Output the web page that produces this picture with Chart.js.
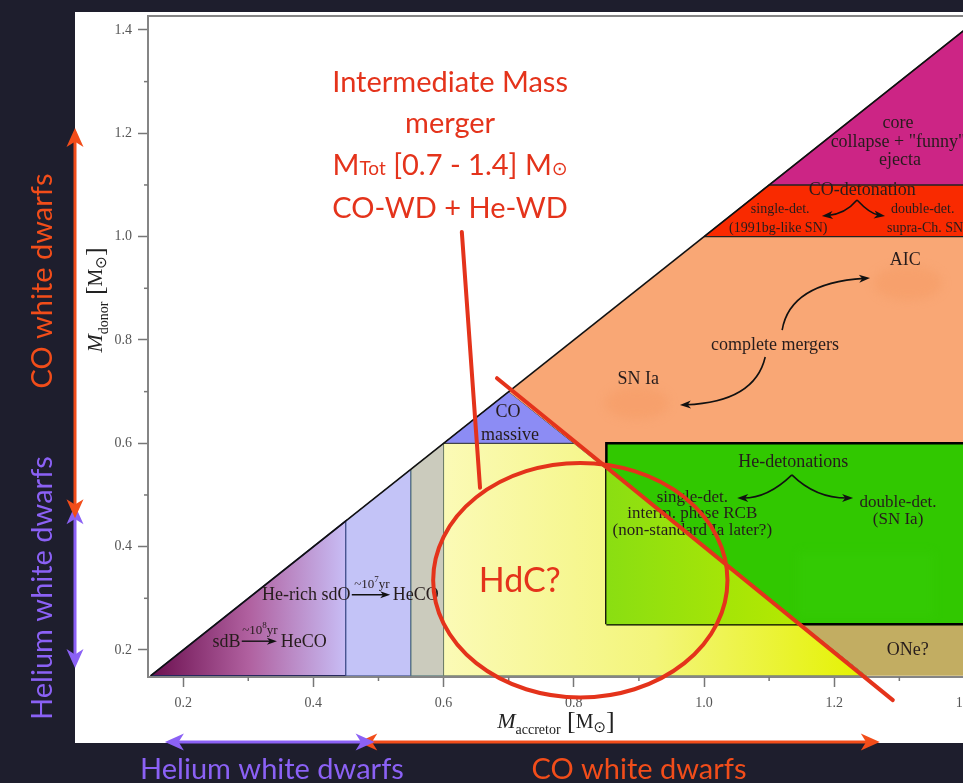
<!DOCTYPE html>
<html>
<head>
<meta charset="utf-8">
<title>Double white dwarf merger outcomes</title>
<script src="https://cdn.jsdelivr.net/npm/chart.js@4.4.1/dist/chart.umd.min.js"></script>
<style>
  html, body { margin: 0; padding: 0; background: #1e1e2d; overflow: hidden; }
  #wrap { width: 963px; height: 783px; overflow: hidden; }
  canvas { display: block; }
</style>
</head>
<body>
<div id="wrap"><canvas id="mergers" width="1000" height="783"></canvas></div>
<script>
// axis ranges, solar masses
const accretorRange = [0.146, 1.45];
const donorRange = [0.1477, 1.427];
const tickStep = 0.1;

// merger outcome zones as polygons of (M_accretor, M_donor)
const sdBZone = [[0.15, 0.15], [0.45, 0.45], [0.45, 0.15]];
const sdOZone = [[0.45, 0.15], [0.45, 0.45], [0.55, 0.55], [0.55, 0.15]];
const hybridZone = [[0.55, 0.15], [0.55, 0.55], [0.6, 0.6], [0.6, 0.15]];
const coLowZone = [[0.6, 0.15], [0.6, 0.6], [0.8, 0.6], [1.25, 0.15]];
const coMassiveZone = [[0.6, 0.6], [0.7, 0.7], [0.8, 0.6]];
const mergerZone = [[0.7, 0.7], [1.0, 1.0], [1.45, 1.0], [1.45, 0.6], [0.85, 0.6], [0.85, 0.55], [0.8, 0.6]];
const coDetZone = [[1.0, 1.0], [1.1, 1.1], [1.45, 1.1], [1.45, 1.0]];
const collapseZone = [[1.1, 1.1], [1.45, 1.45], [1.45, 1.1]];
const heDetZone = [[0.85, 0.25], [0.85, 0.6], [1.45, 0.6], [1.45, 0.25]];
const heDetLowZone = [[0.85, 0.25], [0.85, 0.55], [1.15, 0.25]];
const oneZone = [[1.25, 0.15], [1.15, 0.25], [1.45, 0.25], [1.45, 0.15]];
const equalMass = [[0.15, 0.15], [1.45, 1.45]];

// hand drawn overlay
const totalMassLine = [[0.682, 0.726], [1.29, 0.103]];
const hdcCentre = [0.81, 0.335];
const hdcRadius = [0.226, 0.227];
const calloutLine = [[0.628, 1.009], [0.656, 0.514]];
const heWdDonor = [0.165, 0.48];
const coWdDonor = [0.455, 1.21];
const heWdAccretor = [0.172, 0.494];
const coWdAccretor = [0.469, 1.27];

const SERIF = '"Liberation Serif", "DejaVu Serif", serif';
const SANS = 'Lato, "Open Sans", sans-serif';
const RED = '#e4331b';
const ORANGE = '#f24d1a';
const PURPLE = '#8b61f5';
const INK = '#261c1c';

const pts = poly => poly.map(([x, y]) => ({x, y}));
const closed = poly => pts(poly.concat([poly[0]]));

function hGrad(a, b, stops) {
  return ctx => {
    const chart = ctx.chart;
    const xs = chart.scales.x;
    if (!xs || !chart.chartArea) return stops[0][1];
    const g = chart.ctx.createLinearGradient(xs.getPixelForValue(a), 0, xs.getPixelForValue(b), 0);
    stops.forEach(([o, c]) => g.addColorStop(o, c));
    return g;
  };
}

function zone(poly, fill, line, width, order) {
  return {
    data: closed(poly),
    showLine: true,
    fill: 'shape',
    backgroundColor: fill,
    borderColor: line || 'rgba(0,0,0,0)',
    borderWidth: width || 0,
    pointRadius: 0,
    order: order
  };
}

const datasets = [
  {data: pts(equalMass), showLine: true, borderColor: '#111', borderWidth: 1.6, pointRadius: 0, order: 0},
  zone(heDetLowZone, hGrad(0.85, 1.15, [[0, '#8ade12'], [1, '#b6e900']]), null, 0, 1),
  zone(heDetZone, '#31c800', '#000', 2.5, 2),
  zone(oneZone, '#c2ad62', null, 0, 3),
  zone(collapseZone, '#cc2585', '#222', 1.2, 4),
  zone(coDetZone, '#f92a00', '#222', 1.2, 5),
  zone(mergerZone, '#f9a775', null, 0, 6),
  zone(coMassiveZone, '#8c8cf4', '#333', 1, 7),
  zone(coLowZone, hGrad(0.6, 1.25, [[0, '#fbfab6'], [0.5, '#f3f57a'], [1, '#e4f200']]), '#6b7a66', 1, 8),
  zone(hybridZone, '#cbcbbd', '#5f7f7f', 1, 9),
  zone(sdOZone, '#c3c3f7', '#4a5a9a', 1, 10),
  zone(sdBZone, hGrad(0.15, 0.45, [[0, '#6b0f4f'], [0.5, '#b0609f'], [1, '#c8bdf5']]), '#27285e', 1.5, 11)
];

const isMajor = v => Math.round(v * 10) % 2 === 0;

function arrowHead(c, x, y, ang, len, wid, color) {
  c.save();
  c.translate(x, y);
  c.rotate(ang);
  c.fillStyle = color;
  c.beginPath();
  c.moveTo(0, 0);
  c.lineTo(-len, -wid / 2);
  c.lineTo(-len * 0.72, 0);
  c.lineTo(-len, wid / 2);
  c.closePath();
  c.fill();
  c.restore();
}

function curvedArrow(c, s, k, e) {
  const ang = Math.atan2(e[1] - k[1], e[0] - k[0]);
  c.save();
  c.strokeStyle = '#111';
  c.lineWidth = 1.6;
  c.beginPath();
  c.moveTo(s[0], s[1]);
  c.quadraticCurveTo(k[0], k[1], e[0] - 6 * Math.cos(ang), e[1] - 6 * Math.sin(ang));
  c.stroke();
  arrowHead(c, e[0], e[1], ang, 11, 8, '#111');
  c.restore();
}

function doubleArrow(c, x1, y1, x2, y2, color) {
  const ang = Math.atan2(y2 - y1, x2 - x1);
  c.save();
  c.strokeStyle = color;
  c.lineWidth = 3;
  c.beginPath();
  c.moveTo(x1 + 8 * Math.cos(ang), y1 + 8 * Math.sin(ang));
  c.lineTo(x2 - 8 * Math.cos(ang), y2 - 8 * Math.sin(ang));
  c.stroke();
  arrowHead(c, x2, y2, ang, 19, 17, color);
  arrowHead(c, x1, y1, ang + Math.PI, 19, 17, color);
  c.restore();
}

// draws text runs of mixed size side by side on one baseline
function runs(c, parts, x, y, align) {
  let w = 0;
  parts.forEach(p => { c.font = p.font; p.w = c.measureText(p.t).width; w += p.w; });
  let cx = align === 'left' ? x : align === 'right' ? x - w : x - w / 2;
  c.textAlign = 'left';
  parts.forEach(p => { c.font = p.font; c.fillText(p.t, cx, y + (p.dy || 0)); cx += p.w; });
}

const zoneLabels = [
  ['core', 1.298, 1.220, 18],
  ['collapse + "funny"', 1.298, 1.183, 18],
  ['ejecta', 1.301, 1.148, 18],
  ['CO-detonation', 1.243, 1.090, 18],
  ['single-det.', 1.117, 1.052, 14],
  ['(1991bg-like SN)', 1.114, 1.017, 14],
  ['double-det.', 1.336, 1.052, 14],
  ['supra-Ch. SN', 1.281, 1.017, 14, 'left'],
  ['AIC', 1.309, 0.955, 18],
  ['complete mergers', 1.109, 0.790, 18],
  ['SN Ia', 0.899, 0.723, 18],
  ['CO', 0.699, 0.661, 18],
  ['massive', 0.702, 0.616, 18],
  ['He-detonations', 1.137, 0.564, 18],
  ['single-det.', 0.982, 0.496, 17],
  ['interm. phase RCB', 0.982, 0.465, 17],
  ['(non-standard Ia later?)', 0.982, 0.432, 17],
  ['double-det.', 1.298, 0.486, 17],
  ['(SN Ia)', 1.298, 0.452, 17],
  ['ONe?', 1.313, 0.200, 18]
];

const slide = {
  id: 'slide',
  beforeDraw(chart) {
    const c = chart.ctx;
    c.save();
    c.fillStyle = '#1e1e2d';
    c.fillRect(0, 0, chart.width, chart.height);
    c.fillStyle = '#ffffff';
    c.fillRect(75, 12, chart.width - 75, 731);
    c.restore();
  },
  afterDatasetsDraw(chart) {
    const c = chart.ctx;
    const xs = chart.scales.x, ys = chart.scales.y;
    const X = v => xs.getPixelForValue(v);
    const Y = v => ys.getPixelForValue(v);
    const P = (x, y) => [X(x), Y(y)];
    const a = chart.chartArea;

    c.save();

    // soft patches behind some labels
    c.save();
    c.filter = 'blur(5px)';
    c.fillStyle = 'rgba(244,150,92,0.35)';
    c.beginPath(); c.ellipse(X(1.313), Y(0.910), 34, 17, 0, 0, Math.PI * 2); c.fill();
    c.beginPath(); c.ellipse(X(0.897), Y(0.678), 32, 16, 0, 0, Math.PI * 2); c.fill();
    c.fillStyle = 'rgba(70,215,20,0.15)';
    c.fillRect(X(1.145), Y(0.39), 135, 66);
    c.restore();

    // frame and minor ticks
    c.strokeStyle = '#858585';
    c.lineWidth = 2;
    c.strokeRect(a.left, a.top, a.right - a.left, a.bottom - a.top);
    c.lineWidth = 1.5;
    c.strokeStyle = '#777';
    xs.ticks.forEach(t => {
      if (isMajor(t.value)) return;
      const x = X(t.value);
      c.beginPath(); c.moveTo(x, a.bottom); c.lineTo(x, a.bottom + 4); c.stroke();
    });
    ys.ticks.forEach(t => {
      if (isMajor(t.value)) return;
      const y = Y(t.value);
      c.beginPath(); c.moveTo(a.left, y); c.lineTo(a.left - 4, y); c.stroke();
    });

    // zone labels
    c.fillStyle = INK;
    c.textBaseline = 'middle';
    zoneLabels.forEach(([t, x, y, size, align]) => {
      c.font = size + 'px ' + SERIF;
      c.textAlign = align || 'center';
      c.fillText(t, X(x), Y(y));
    });

    // sdB and sdO evolution labels
    c.textAlign = 'right';
    c.font = '18px ' + SERIF;
    c.fillText('sdB', X(0.288), Y(0.215));
    c.fillText('He-rich sdO', X(0.457), Y(0.305));
    c.textAlign = 'left';
    c.fillText('HeCO', X(0.350), Y(0.215));
    c.fillText('HeCO', X(0.522), Y(0.305));
    c.strokeStyle = '#111';
    c.lineWidth = 1.4;
    [[0.290, 0.344, 0.217], [0.459, 0.518, 0.307]].forEach(([x1, x2, y]) => {
      c.beginPath(); c.moveTo(X(x1), Y(y)); c.lineTo(X(x2) - 6, Y(y)); c.stroke();
      arrowHead(c, X(x2), Y(y), 0, 10, 7, '#111');
    });
    c.textBaseline = 'alphabetic';
    const sup = n => [
      {t: '~10', font: '13px ' + SERIF},
      {t: n, font: '9px ' + SERIF, dy: -6},
      {t: 'yr', font: '13px ' + SERIF}
    ];
    runs(c, sup('8'), X(0.318), Y(0.239) + 4, 'center');
    runs(c, sup('7'), X(0.490), Y(0.328) + 4, 'center');

    // curved arrows
    curvedArrow(c, P(1.235, 1.071), P(1.217, 1.044), P(1.181, 1.040));
    curvedArrow(c, P(1.235, 1.071), P(1.255, 1.044), P(1.278, 1.040));
    curvedArrow(c, P(1.120, 0.819), P(1.132, 0.910), P(1.255, 0.920));
    curvedArrow(c, P(1.094, 0.767), P(1.078, 0.680), P(0.963, 0.674));
    curvedArrow(c, P(1.135, 0.539), P(1.098, 0.494), P(1.051, 0.494));
    curvedArrow(c, P(1.135, 0.539), P(1.171, 0.494), P(1.229, 0.494));

    // axis titles
    c.fillStyle = '#222';
    const title = sub => [
      {t: 'M', font: 'italic 22px ' + SERIF},
      {t: sub, font: '14px ' + SERIF, dy: 6},
      {t: ' [', font: '26px ' + SERIF, dy: 1},
      {t: 'M', font: '20px ' + SERIF},
      {t: '\u2299', font: '15px "DejaVu Sans"', dy: 4},
      {t: ']', font: '26px ' + SERIF, dy: 1}
    ];
    runs(c, title('accretor'), 556, 728, 'center');
    c.save();
    c.translate(102, 300);
    c.rotate(-Math.PI / 2);
    runs(c, title('donor'), 0, 0, 'center');
    c.restore();

    // red overlay: total mass line, callout and HdC ring
    c.strokeStyle = RED;
    c.lineWidth = 4;
    c.lineCap = 'round';
    [totalMassLine, calloutLine].forEach(([p, q]) => {
      c.beginPath(); c.moveTo(X(p[0]), Y(p[1])); c.lineTo(X(q[0]), Y(q[1])); c.stroke();
    });
    c.beginPath();
    c.ellipse(X(hdcCentre[0]), Y(hdcCentre[1]),
      X(hdcCentre[0] + hdcRadius[0]) - X(hdcCentre[0]),
      Y(hdcCentre[1]) - Y(hdcCentre[1] + hdcRadius[1]), 0, 0, Math.PI * 2);
    c.stroke();

    c.fillStyle = RED;
    c.textAlign = 'center';
    c.font = '34px ' + SANS;
    c.fillText('HdC?', X(0.717), Y(0.335) + 12);
    c.font = '29px ' + SANS;
    c.fillText('Intermediate Mass', X(0.61), Y(1.299) + 10);
    c.fillText('merger', X(0.61), Y(1.220) + 10);
    runs(c, [
      {t: 'M', font: '29px ' + SANS},
      {t: 'Tot', font: '19px ' + SANS},
      {t: ' [0.7 - 1.4] M', font: '29px ' + SANS},
      {t: '\u2299', font: '19px "DejaVu Sans"'}
    ], X(0.61), Y(1.139) + 10, 'center');
    c.textAlign = 'center';
    c.font = '29px ' + SANS;
    c.fillText('CO-WD + He-WD', X(0.61), Y(1.055) + 10);

    // white dwarf mass ranges along both axes
    doubleArrow(c, 75, Y(heWdDonor[1]), 75, Y(heWdDonor[0]), PURPLE);
    doubleArrow(c, 75, Y(coWdDonor[1]), 75, Y(coWdDonor[0]), ORANGE);
    doubleArrow(c, X(coWdAccretor[0]), 742, X(coWdAccretor[1]), 742, ORANGE);
    doubleArrow(c, X(heWdAccretor[0]), 742, X(heWdAccretor[1]), 742, PURPLE);

    c.font = '29px ' + SANS;
    c.textAlign = 'center';
    c.fillStyle = PURPLE;
    c.fillText('Helium white dwarfs', 272, 779);
    c.fillStyle = ORANGE;
    c.fillText('CO white dwarfs', 639, 779);
    c.save();
    c.translate(52, 0);
    c.rotate(-Math.PI / 2);
    c.fillStyle = ORANGE;
    c.fillText('CO white dwarfs', -281, 0);
    c.fillStyle = PURPLE;
    c.fillText('Helium white dwarfs', -588, 0);
    c.restore();

    c.restore();
  }
};

const tickFont = {family: SERIF, size: 14};
const tickLabel = v => isMajor(v) ? (Math.round(v * 10) / 10).toFixed(1) : '';
const majorTick = ctx => (ctx.tick && isMajor(ctx.tick.value)) ? '#777' : 'rgba(0,0,0,0)';

new Chart(document.getElementById('mergers'), {
  type: 'scatter',
  data: {datasets: datasets},
  options: {
    responsive: false,
    animation: false,
    events: [],
    layout: {padding: {top: 16, right: 3, left: 0, bottom: 0}},
    plugins: {legend: {display: false}, tooltip: {enabled: false}},
    scales: {
      x: {
        type: 'linear',
        min: accretorRange[0],
        max: accretorRange[1],
        afterFit: s => { s.height = 106; },
        border: {display: false},
        grid: {drawOnChartArea: false, tickLength: 10, tickWidth: 1.5, tickColor: majorTick},
        ticks: {stepSize: tickStep, includeBounds: false, autoSkip: false, maxRotation: 0,
          padding: 8, color: '#555', font: tickFont, callback: tickLabel}
      },
      y: {
        type: 'linear',
        min: donorRange[0],
        max: donorRange[1],
        afterFit: s => { s.width = 148; },
        border: {display: false},
        grid: {drawOnChartArea: false, tickLength: 10, tickWidth: 1.5, tickColor: majorTick},
        ticks: {stepSize: tickStep, includeBounds: false, autoSkip: false,
          padding: 6, color: '#555', font: tickFont, callback: tickLabel}
      }
    }
  },
  plugins: [slide]
});
</script>
</body>
</html>
